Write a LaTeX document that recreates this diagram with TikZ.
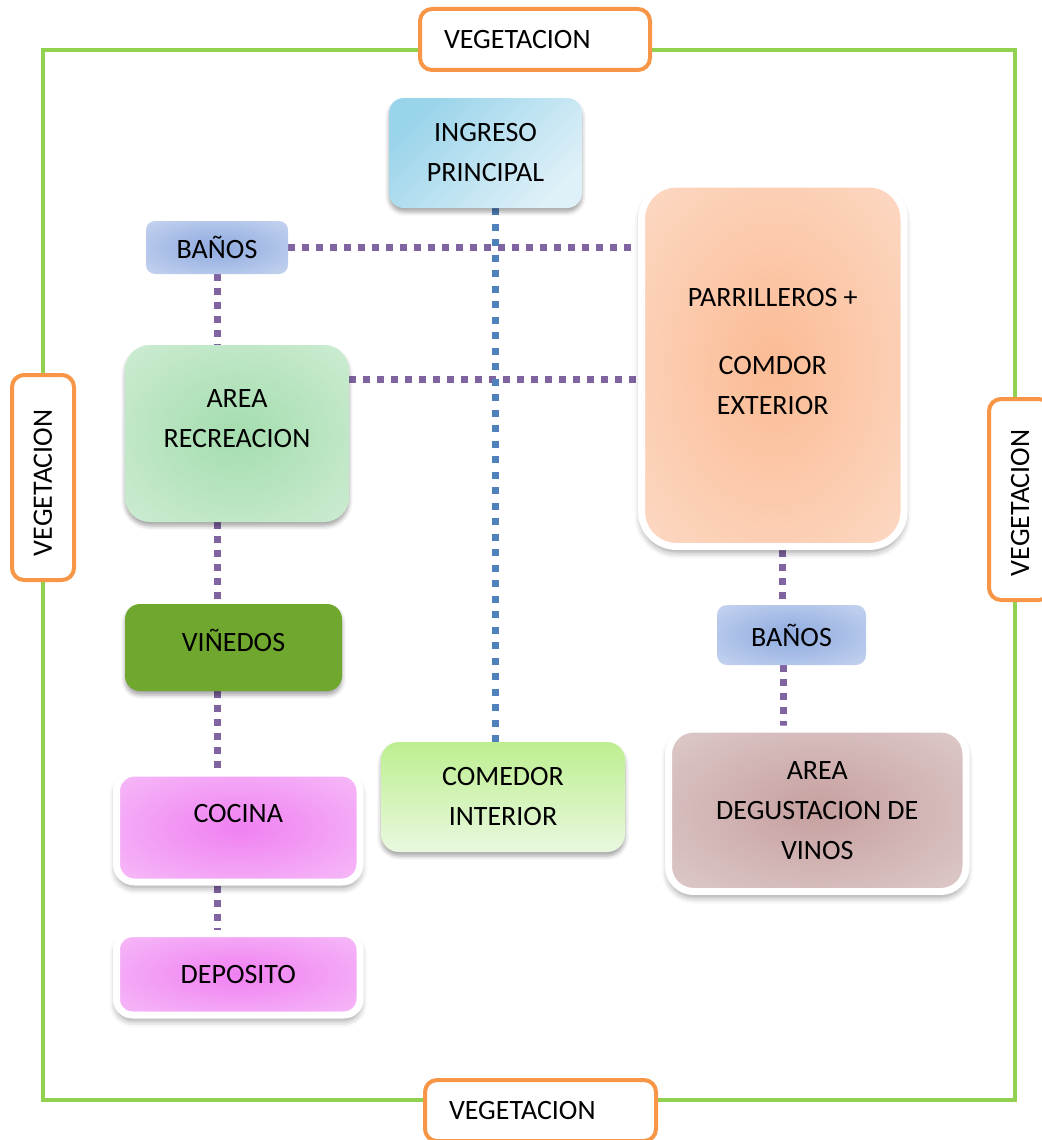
\documentclass[tikz,border=0pt]{standalone}
\usepackage{fontspec}
\setmainfont{Carlito}
\usetikzlibrary{calc}
\usetikzlibrary{shadows.blur}
\definecolor{FrameGreen}{HTML}{92D050}
\definecolor{VegOrange}{HTML}{F79646}
\definecolor{LinkPurple}{HTML}{8064A2}
\definecolor{LinkBlue}{HTML}{4F81BD}
\definecolor{IngA}{HTML}{9AD4EA}
\definecolor{IngB}{HTML}{DEF0F8}
\definecolor{BanA}{HTML}{8EAADF}
\definecolor{BanB}{HTML}{DBE4F6}
\definecolor{RecA}{HTML}{A4DDAE}
\definecolor{RecB}{HTML}{DDF2E1}
\definecolor{ParA}{HTML}{FBBB94}
\definecolor{ParB}{HTML}{FDE5D8}
\definecolor{VinGreen}{HTML}{70A82F}
\definecolor{CocA}{HTML}{F080F2}
\definecolor{CocB}{HTML}{F8D4FA}
\definecolor{ComA}{HTML}{BDEF90}
\definecolor{ComB}{HTML}{E9F8DF}
\definecolor{DegA}{HTML}{C6A09F}
\definecolor{DegB}{HTML}{E7DBDB}
\colorlet{glowin}{white}
\colorlet{glowout}{white}
\pgfdeclareradialshading[glowin,glowout]{glow}{\pgfpoint{0bp}{0bp}}{color(0bp)=(glowin); color(50bp)=(glowout)}
\pgfdeclarelayer{links}
\pgfsetlayers{links,main}
\tikzset{
  zone/.style={rounded corners=15pt, align=center, inner sep=0pt},
  glow/.style 2 args={shade, shading=glow, /utils/exec={\colorlet{glowin}{#1}\colorlet{glowout}{#2}}},
  vegbox/.style={draw=VegOrange, line width=4pt, rounded corners=12pt, fill=white,
    inner xsep=24pt, inner ysep=0pt, align=left},
  framed/.style={draw=white, line width=7pt, blur shadow={shadow xshift=0pt, shadow yshift=-5pt,
    shadow blur radius=7pt, shadow opacity=45}},
  shade below/.style={blur shadow={shadow xshift=0pt, shadow yshift=-4pt,
    shadow blur radius=4pt, shadow opacity=35}},
  link/.style={LinkPurple, line width=7pt, dash pattern=on 7pt off 7pt},
  mainlink/.style={LinkBlue, line width=7pt, dash pattern=on 7pt off 8.5pt}
}

\begin{document}
\begin{tikzpicture}[x=1pt,y=-1pt,font=\fontsize{28}{40}\selectfont]
  \useasboundingbox (0,0) rectangle (1041,1140);
  % Site boundary
  \draw[FrameGreen, line width=4pt] (43,50) rectangle (1015,1100);
  \node[vegbox, minimum height=61pt, text width=182pt] (vegN) at (535,39.5) {VEGETACION};
  \node[vegbox, minimum height=61pt, text width=183pt] (vegS) at (540.5,1110.5) {VEGETACION};
  \node[vegbox, rotate=90, minimum height=62pt, text width=157pt] (vegW) at (43,477.5) {VEGETACION};
  \node[vegbox, rotate=90, minimum height=62pt, text width=153pt] (vegE) at (1020,499.5) {VEGETACION};
  % Zones
  \node[zone, shade below, top color=IngA, bottom color=IngB, shading angle=45,
    minimum width=193pt, minimum height=110pt] (ingreso) at (485.5,153) {INGRESO\\PRINCIPAL};
  \node[zone, rounded corners=9pt, glow={BanA}{BanB},
    minimum width=142pt, minimum height=53pt] (banosA) at (217,247.5) {BAÑOS};
  \node[zone, rounded corners=25pt, shade below, glow={RecA}{RecB},
    minimum width=224pt, minimum height=177pt, text depth=30pt] (recre) at (237,433.5) {AREA\\RECREACION};
  \node[zone, rounded corners=35pt, framed, glow={ParA}{ParB},
    minimum width=262.5pt, minimum height=362.5pt, text depth=28pt] (parr) at (772.75,365.25)
    {PARRILLEROS +\\[28pt]COMDOR\\EXTERIOR};
  \node[zone, shade below, fill=VinGreen, minimum width=217pt, minimum height=87pt,
    text depth=14pt] (vinedos) at (233.5,647.5) {VIÑEDOS};
  \node[zone, rounded corners=18pt, framed, glow={CocA}{CocB},
    minimum width=243.5pt, minimum height=109pt, text depth=29pt] (cocina) at (238.25,827.5) {COCINA};
  \node[zone, rounded corners=16pt, framed, glow={CocA}{CocB},
    minimum width=243.5pt, minimum height=81.5pt] (deposito) at (238.25,974.25) {DEPOSITO};
  \node[zone, rounded corners=18pt, shade below, top color=ComA, bottom color=ComB,
    minimum width=244pt, minimum height=110pt] (comedor) at (503,797) {COMEDOR\\INTERIOR};
  \node[zone, rounded corners=10pt, glow={BanA}{BanB},
    minimum width=149pt, minimum height=60pt] (banosB) at (791.5,635) {BAÑOS};
  \node[zone, rounded corners=25pt, framed, glow={DegA}{DegB},
    minimum width=297.5pt, minimum height=162.5pt] (degus) at (817.25,810.25)
    {AREA\\DEGUSTACION DE\\VINOS};
  % Links
  \begin{pgfonlayer}{links}
    \draw[link] (banosA.east) -- (banosA.east -| parr.west);
    \draw[link] ([yshift=-35pt]recre.north east) -- ([yshift=-35pt]recre.north east -| parr.west);
    \draw[link] (banosA.south) -- (banosA.south |- recre.north);
    \draw[link] (banosA |- recre.south) -- (banosA |- vinedos.north);
    \draw[link] (banosA |- vinedos.south) -- (banosA |- cocina.north);
    \draw[link] (banosA |- cocina.south) -- (banosA |- deposito.north);
    \draw[link] ([xshift=10pt]parr.south) -- ([xshift=10pt]parr.south |- banosB.north);
    \draw[link] ([xshift=-8pt]banosB.south) -- ([xshift=-8pt]banosB.south |- degus.north);
    \draw[mainlink] ([xshift=10pt]ingreso.south) -- ([xshift=10pt]ingreso.south |- comedor.north);
  \end{pgfonlayer}
\end{tikzpicture}
\end{document}
